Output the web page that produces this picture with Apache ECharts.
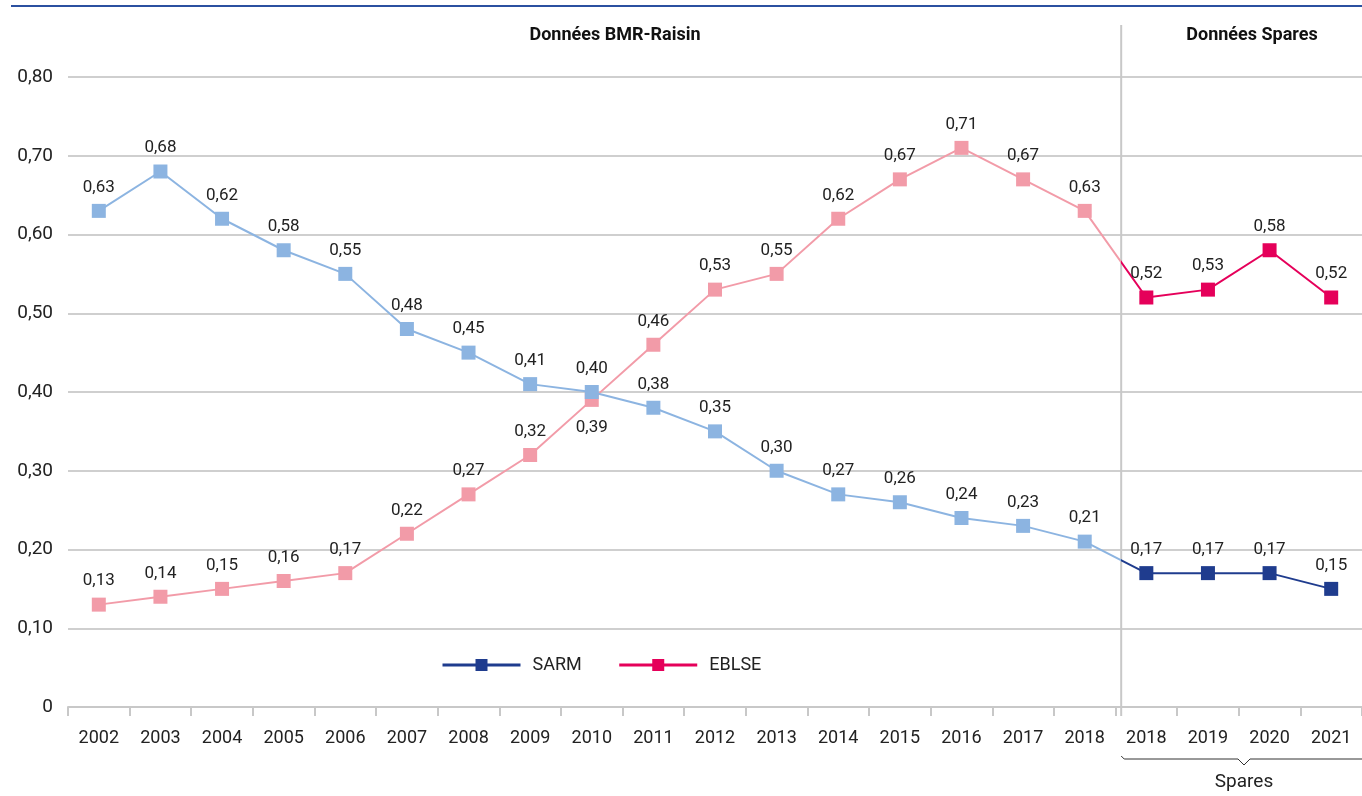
<!DOCTYPE html>
<html><head><meta charset="utf-8">
<script src="https://cdn.jsdelivr.net/npm/echarts@6/dist/echarts.min.js"></script>
<style>html,body{margin:0;padding:0;background:#fff}#c{width:1362px;height:796px}</style>
</head><body><div id="c"></div>
<script>
const categories = ['2002','2003','2004','2005','2006','2007','2008','2009','2010','2011','2012','2013','2014','2015','2016','2017','2018','2018','2019','2020','2021'];
const sarm  = [0.63,0.68,0.62,0.58,0.55,0.48,0.45,0.41,0.40,0.38,0.35,0.30,0.27,0.26,0.24,0.23,0.21,0.17,0.17,0.17,0.15];
const eblse = [0.13,0.14,0.15,0.16,0.17,0.22,0.27,0.32,0.39,0.46,0.53,0.55,0.62,0.67,0.71,0.67,0.63,0.52,0.53,0.58,0.52];
const splitIndex = 17; // first "Spares" category
const sectionTitles = ['Données BMR-Raisin','Données Spares'];
const bracketLabel = 'Spares';
const eblseBelowLabels = [8];

const C = {sarmL:'#8cb4e1', sarmD:'#1f3c8e', ebL:'#f29ba8', ebD:'#e5005a'};
const font = 'Roboto, "DejaVu Sans", sans-serif';
const fmt = v => v === 0 ? '0' : v.toFixed(2).replace('.', ',');

const W = 1362, G = {left:68, right:-7, top:77, bottom:89};
const bw = (W - G.left - G.right) / categories.length;
const xs = G.left + splitIndex * bw;
const grad = (a,b) => new echarts.graphic.LinearGradient(0,0,W,0,[
  {offset:0,color:a},{offset:xs/W,color:a},{offset:xs/W,color:b},{offset:1,color:b}], true);

const chart = echarts.init(document.getElementById('c'));
const lbl = () => ({show:true, position:'top', distance:8, fontFamily:font, fontSize:17, color:'#222',
  formatter:p=>fmt(typeof p.value === 'number' ? p.value : p.data.value)});
const option = {
  animation:false,
  grid:G,
  xAxis:{type:'category', data:categories, boundaryGap:true,
    axisLine:{lineStyle:{color:'#c8c8c8', width:2}},
    axisTick:{show:true, length:9, lineStyle:{color:'#c8c8c8', width:2}},
    axisLabel:{fontFamily:font, fontSize:18, color:'#222', margin:22, interval:0},
    splitLine:{show:false}},
  yAxis:{type:'value', min:0, max:0.8, interval:0.1,
    axisLine:{show:false}, axisTick:{show:false},
    axisLabel:{fontFamily:font, fontSize:19, color:'#222', margin:15, formatter:fmt},
    splitLine:{lineStyle:{color:'#cfcfcf', width:2}}},
  legend:{data:[
      {name:'SARM', itemStyle:{color:C.sarmD}, lineStyle:{color:C.sarmD, width:3}},
      {name:'EBLSE', itemStyle:{color:C.ebD}, lineStyle:{color:C.ebD, width:3}}],
    left:436, top:651, itemWidth:78, itemHeight:15, itemGap:36,
    textStyle:{fontFamily:font, fontSize:18, color:'#222', padding:[0,0,0,7]}},
  series:[
    {name:'SARM', type:'line', data:sarm, symbol:'rect', symbolSize:14, z:4,
      lineStyle:{width:2, color:grad(C.sarmL, C.sarmD)},
      itemStyle:{color:p => p.dataIndex >= splitIndex ? C.sarmD : C.sarmL},
      label:lbl()},
    {name:'EBLSE', type:'line',
      data:eblse.map((v,i)=> eblseBelowLabels.includes(i) ? {value:v, label:{position:'bottom', distance:12}} : v),
      symbol:'rect', symbolSize:14, z:3,
      lineStyle:{width:2, color:grad(C.ebL, C.ebD)},
      itemStyle:{color:p => p.dataIndex >= splitIndex ? C.ebD : C.ebL},
      label:lbl()}
  ]
};
chart.setOption(option);

const yBase = 796 - G.bottom;
chart.setOption({graphic:[
  {type:'line', shape:{x1:11,y1:6,x2:W,y2:6}, style:{stroke:'#2b50a0', lineWidth:2}, z:10},
  {type:'line', shape:{x1:xs,y1:25,x2:xs,y2:yBase+9}, style:{stroke:'#c8c8c8', lineWidth:2}, z:1},
  {type:'text', x:615, y:35, style:{text:sectionTitles[0], font:'bold 18px '+font, fill:'#111', align:'center', verticalAlign:'middle'}},
  {type:'text', x:1252, y:35, style:{text:sectionTitles[1], font:'bold 18px '+font, fill:'#111', align:'center', verticalAlign:'middle'}},
  {type:'polyline', shape:{points:[[xs,756],[xs+3,759],[1238,759],[1244,765],[1250,759],[W,759]]},
    style:{stroke:'#333', lineWidth:1, fill:null}},
  {type:'text', x:1244, y:782, style:{text:bracketLabel, font:'19px '+font, fill:'#222', align:'center', verticalAlign:'middle'}}
]});
</script></body></html>
